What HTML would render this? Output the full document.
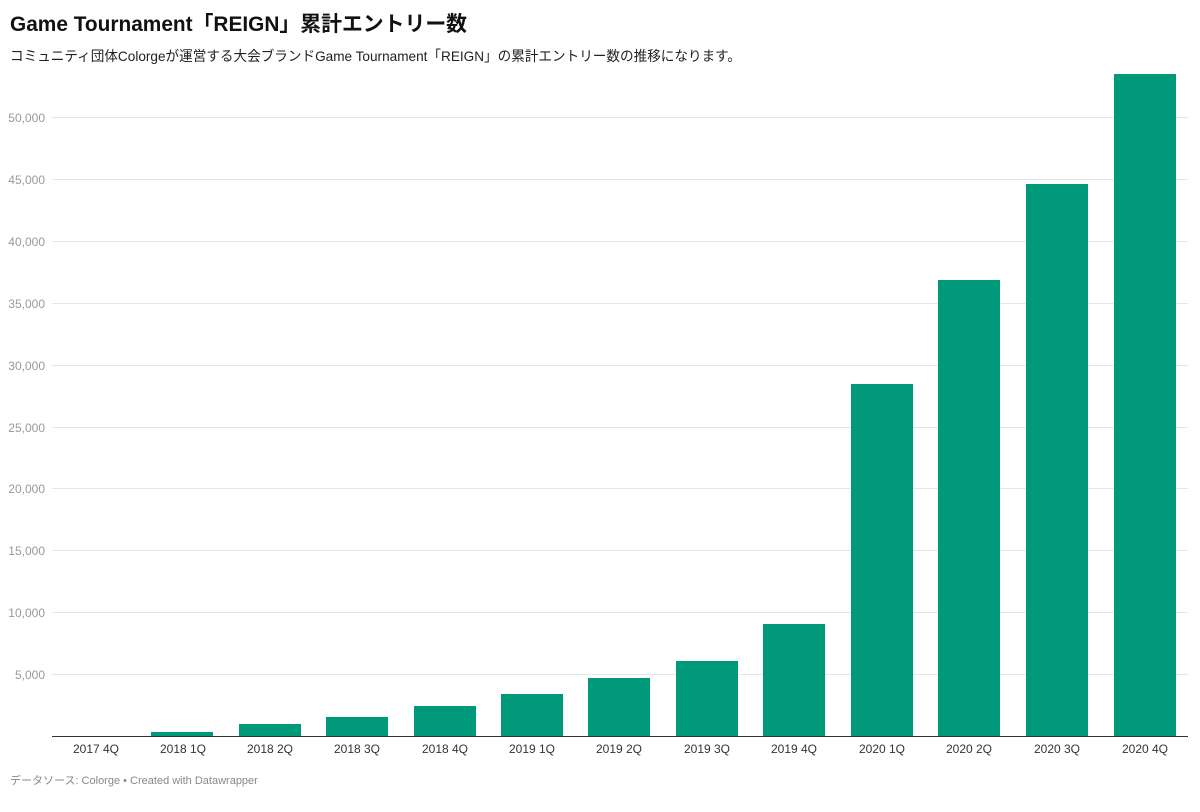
<!DOCTYPE html>
<html><head><meta charset="utf-8"><style>
body{margin:0;background:#fff;width:1200px;height:807px;overflow:hidden;font-family:"Liberation Sans","Noto Sans CJK JP",sans-serif}
</style></head><body>
<svg width="1200" height="807" xmlns="http://www.w3.org/2000/svg" font-family="Liberation Sans, Noto Sans CJK JP, sans-serif">
<text x="10" y="31" font-size="21" font-weight="bold" fill="#111" textLength="457" lengthAdjust="spacingAndGlyphs">Game Tournament「REIGN」累計エントリー数</text>
<text x="10" y="61" font-size="14" fill="#222" textLength="731" lengthAdjust="spacingAndGlyphs">コミュニティ団体Colorgeが運営する大会ブランドGame Tournament「REIGN」の累計エントリー数の推移になります。</text>
<g stroke="#e6e6e6" stroke-width="1">
<line x1="52" x2="1188" y1="117.5" y2="117.5"/><line x1="52" x2="1188" y1="179.5" y2="179.5"/><line x1="52" x2="1188" y1="241.5" y2="241.5"/><line x1="52" x2="1188" y1="303.5" y2="303.5"/><line x1="52" x2="1188" y1="365.5" y2="365.5"/><line x1="52" x2="1188" y1="427.5" y2="427.5"/><line x1="52" x2="1188" y1="488.5" y2="488.5"/><line x1="52" x2="1188" y1="550.5" y2="550.5"/><line x1="52" x2="1188" y1="612.5" y2="612.5"/><line x1="52" x2="1188" y1="674.5" y2="674.5"/>
</g>
<g font-size="12" fill="#999" text-anchor="end">
<text x="45" y="122">50,000</text><text x="45" y="184">45,000</text><text x="45" y="246">40,000</text><text x="45" y="308">35,000</text><text x="45" y="370">30,000</text><text x="45" y="432">25,000</text><text x="45" y="493">20,000</text><text x="45" y="555">15,000</text><text x="45" y="617">10,000</text><text x="45" y="679">5,000</text>
</g>
<g fill="#00997a">
<rect x="151" y="732" width="62" height="4"/>
<rect x="239" y="724" width="62" height="12"/>
<rect x="326" y="717" width="62" height="19"/>
<rect x="414" y="706" width="62" height="30"/>
<rect x="501" y="694" width="62" height="42"/>
<rect x="588" y="678" width="62" height="58"/>
<rect x="676" y="661" width="62" height="75"/>
<rect x="763" y="624" width="62" height="112"/>
<rect x="851" y="384" width="62" height="352"/>
<rect x="938" y="280" width="62" height="456"/>
<rect x="1026" y="184" width="62" height="552"/>
<rect x="1114" y="74" width="62" height="662"/>
</g>
<line x1="52" x2="1188" y1="736.5" y2="736.5" stroke="#333" stroke-width="1"/>
<g font-size="12" fill="#333" text-anchor="middle">
<text x="96" y="753">2017 4Q</text><text x="183" y="753">2018 1Q</text><text x="270" y="753">2018 2Q</text><text x="357" y="753">2018 3Q</text><text x="445" y="753">2018 4Q</text><text x="532" y="753">2019 1Q</text><text x="619" y="753">2019 2Q</text><text x="707" y="753">2019 3Q</text><text x="794" y="753">2019 4Q</text><text x="882" y="753">2020 1Q</text><text x="969" y="753">2020 2Q</text><text x="1057" y="753">2020 3Q</text><text x="1145" y="753">2020 4Q</text>
</g>
<text x="10" y="784" font-size="11" fill="#888">データソース: Colorge • Created with Datawrapper</text>
</svg>
</body></html>
